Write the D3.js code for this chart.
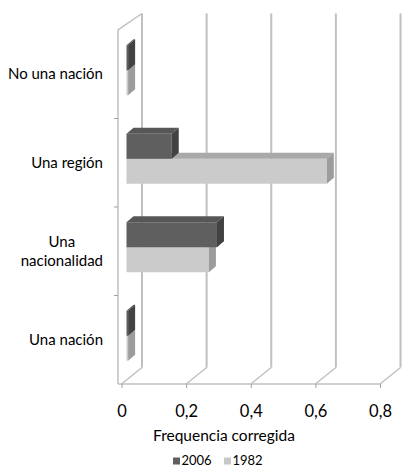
<!DOCTYPE html>
<html>
<head>
<meta charset="utf-8">
<script src="https://cdn.jsdelivr.net/npm/d3@7"></script>
<style>
  html, body { margin: 0; padding: 0; background: #fff; }
  svg { display: block; font-family: Lato, "Open Sans", sans-serif; }
</style>
</head>
<body>
<div id="chart"></div>
<script>
// ---- data ----
const categories = ["No una nación", "Una región", "Una nacionalidad", "Una nación"];
const series = ["2006", "1982"];
const values2006 = [0.005, 0.14, 0.28, 0.005];
const values1982 = [0.005, 0.62, 0.255, 0.005];
const xTicks = [0, 0.2, 0.4, 0.6, 0.8];
const xTitle = "Frequencia corregida";

// ---- layout ----
const W = 404, H = 468;
const svg = d3.select("#chart").append("svg").attr("width", W).attr("height", H);

const x = d3.scaleLinear().domain([0, 0.8]).range([121.5, 380]);
const y = d3.scaleBand().domain(categories).range([30, 384]);
const ys = d3.scaleBand().domain(series).range([0, y.bandwidth()]).paddingOuter(0.77).paddingInner(0);

const plane = { dx: 20.5, dy: -16.5 };   // depth of the whole plot
const barOff = { dx: 5, dy: -4 };         // bar front face offset
const barDepth = { dx: 7, dy: -6 };       // bar depth

const gridColor = "#c0c0c0";
const colors = {
  "2006": { front: "#5f5f5f", top: "#575757", side: "#424242", legend: "#606060" },
  "1982": { front: "#cbcbcb", top: "#a9a9a9", side: "#9c9c9c", legend: "#c8c8c8" }
};

const fmt = v => v === 0 ? "0" : d3.format(".1f")(v).replace(".", ",");

// back wall gridlines
const yTopBack = 30 + plane.dy, yBotBack = 384 + plane.dy;
svg.append("g").selectAll("line").data(xTicks).join("line")
  .attr("x1", d => x(d) + plane.dx).attr("x2", d => x(d) + plane.dx)
  .attr("y1", yTopBack).attr("y2", yBotBack)
  .attr("stroke", gridColor).attr("stroke-width", 2);

// floor diagonals
svg.append("g").selectAll("line").data(xTicks).join("line")
  .attr("x1", d => x(d)).attr("y1", 384)
  .attr("x2", d => x(d) + plane.dx).attr("y2", 384 + plane.dy)
  .attr("stroke", gridColor).attr("stroke-width", 1.5);

// left wall
const wallX = 118;
svg.append("path")
  .attr("d", `M${wallX},384 L${wallX},30 L${x(0) + plane.dx},${yTopBack}`)
  .attr("fill", "none").attr("stroke", gridColor).attr("stroke-width", 1.5);
// category ticks on left wall
svg.append("g").selectAll("line").data(categories.slice(1)).join("line")
  .attr("x1", wallX - 4).attr("x2", wallX)
  .attr("y1", d => y(d)).attr("y2", d => y(d))
  .attr("stroke", "#a0a0a0").attr("stroke-width", 1);

// x axis (front floor edge)
const axis = d3.axisBottom(x).tickValues(xTicks).tickFormat(fmt).tickSize(4).tickPadding(17).tickSizeOuter(0);
const gx = svg.append("g").attr("transform", "translate(0,384)").call(axis);
gx.select(".domain").attr("stroke", gridColor).attr("stroke-width", 1.5)
  .attr("d", `M${wallX},0 H${x(0.8)}`);
gx.selectAll(".tick line").attr("stroke", "#a0a0a0");
gx.selectAll(".tick text").attr("font-size", 16.5).attr("fill", "#000")
  .style("font-family", "Lato, sans-serif");

// bars
const rows = [];
categories.forEach((c, i) => {
  rows.push({ cat: c, s: "1982", v: values1982[i] });
  rows.push({ cat: c, s: "2006", v: values2006[i] });
});
const bars = svg.append("g").selectAll("g").data(rows).join("g");
function geom(d) {
  const xl = x(0) + barOff.dx, xr = x(d.v) + barOff.dx;
  const yt = y(d.cat) + ys(d.s) + barOff.dy, yb = yt + ys.bandwidth();
  return { xl, xr, yt, yb };
}
bars.append("rect")
  .attr("x", d => geom(d).xl).attr("y", d => geom(d).yt)
  .attr("width", d => geom(d).xr - geom(d).xl).attr("height", d => ys.bandwidth())
  .attr("fill", d => colors[d.s].front);
bars.append("polygon")
  .attr("points", d => { const g = geom(d);
    return [[g.xl, g.yt], [g.xl + barDepth.dx, g.yt + barDepth.dy], [g.xr + barDepth.dx, g.yt + barDepth.dy], [g.xr, g.yt]].join(" "); })
  .attr("fill", d => colors[d.s].top);
bars.append("polygon")
  .attr("points", d => { const g = geom(d);
    return [[g.xr, g.yt], [g.xr + barDepth.dx, g.yt + barDepth.dy], [g.xr + barDepth.dx, g.yb + barDepth.dy], [g.xr, g.yb]].join(" "); })
  .attr("fill", d => colors[d.s].side);

// category labels
const labelRight = 103;
const lab = svg.append("g").attr("font-size", 15).attr("fill", "#000");
categories.forEach(c => {
  const cy = y(c) + y.bandwidth() / 2 + 1;
  const t = lab.append("text").attr("x", labelRight).attr("y", cy)
    .attr("text-anchor", "end").attr("dominant-baseline", "middle").text(c);
  if (t.node().getComputedTextLength() > 102) {
    t.remove();
    const words = c.split(" ");
    const lines = [words.slice(0, -1).join(" "), words[words.length - 1]];
    const tmp = lab.append("text").text(lines[1]);
    const w = tmp.node().getComputedTextLength(); tmp.remove();
    const lh = 19;
    lines.forEach((ln, k) => {
      lab.append("text").attr("x", labelRight - w / 2)
        .attr("y", cy + (k - (lines.length - 1) / 2) * lh)
        .attr("text-anchor", "middle").attr("dominant-baseline", "middle").text(ln);
    });
  }
});

// axis title
svg.append("text").attr("x", 224).attr("y", 441).attr("text-anchor", "middle")
  .attr("font-size", 15.5).attr("fill", "#000").text(xTitle);

// legend
const legX = [173, 224];
const leg = svg.append("g").selectAll("g").data(series).join("g")
  .attr("transform", (d, i) => `translate(${legX[i]},457.5)`);
leg.append("rect").attr("width", 7).attr("height", 7).attr("fill", d => colors[d].legend);
leg.append("text").attr("x", 8.5).attr("y", 7.5).attr("font-size", 13).attr("fill", "#000").text(d => d);
</script>
</body>
</html>
